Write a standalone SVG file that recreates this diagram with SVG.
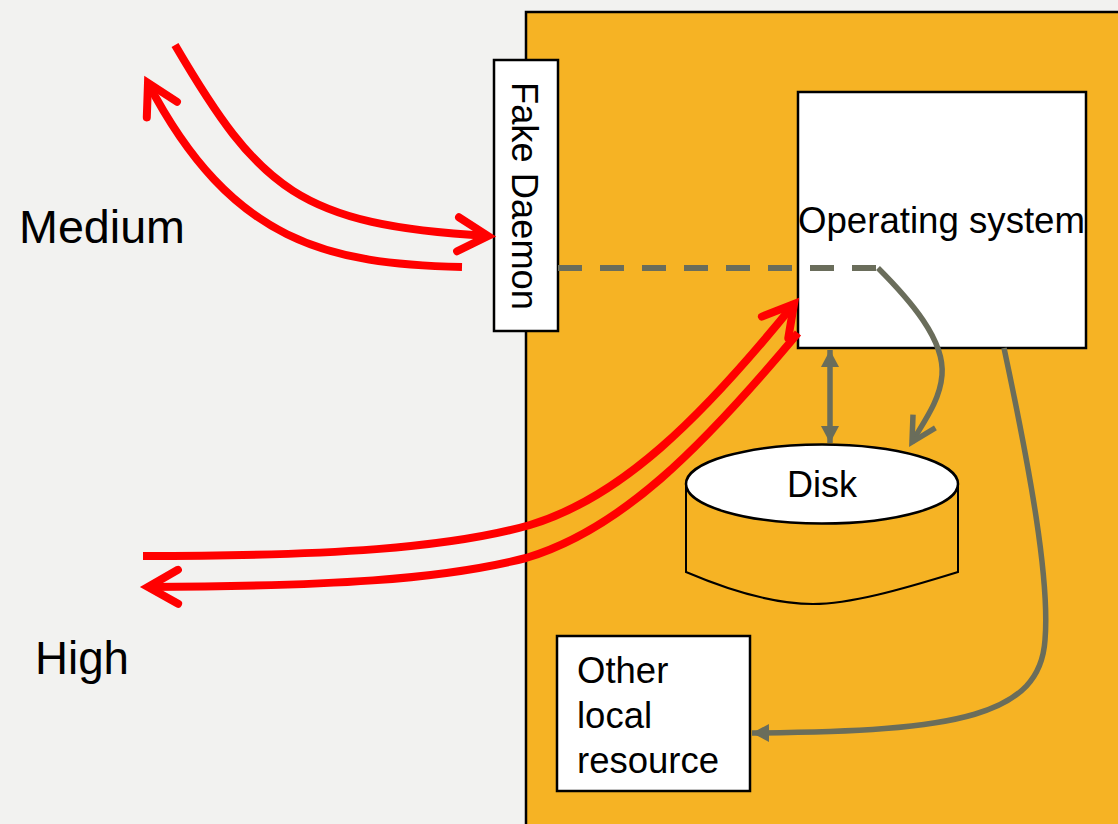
<svg xmlns="http://www.w3.org/2000/svg" width="1118" height="824" viewBox="0 0 1118 824">
  <style>
    .t { font-family: "Liberation Sans", Arial, sans-serif; fill: #000; }
    .box { fill: #fff; stroke: #000; stroke-width: 2.5; }
    .red { fill: none; stroke: #ff0000; stroke-width: 8; stroke-linecap: butt; }
    .gray { fill: none; stroke: #6a6d5b; stroke-width: 5.5; }
  </style>
  <defs>
    <marker id="redOpen" markerUnits="userSpaceOnUse" markerWidth="80" markerHeight="80" viewBox="-40 -40 80 80" refX="0" refY="0" orient="auto" overflow="visible">
      <path d="M-30,-17 L0,0 L-30,17" fill="none" stroke="#ff0000" stroke-width="8" stroke-linecap="round" stroke-linejoin="miter"/>
    </marker>
    <marker id="grayOpen" markerUnits="userSpaceOnUse" markerWidth="60" markerHeight="60" viewBox="-30 -30 60 60" refX="0" refY="0" orient="auto" overflow="visible">
      <path d="M-24,-13 L0,0 L-24,13" fill="none" stroke="#6a6d5b" stroke-width="5.5" stroke-linejoin="miter"/>
    </marker>
    <marker id="grayFill" markerUnits="userSpaceOnUse" markerWidth="40" markerHeight="40" viewBox="-20 -20 40 40" refX="0" refY="0" orient="auto-start-reverse" overflow="visible">
      <path d="M0,0 L-17,-9 L-17,9 Z" fill="#6a6d5b"/>
    </marker>
  </defs>

  <rect x="0" y="0" width="1118" height="824" fill="#f2f2f0"/>

  <g id="host">
    <rect x="526" y="12" width="600" height="830" fill="#f6b324" stroke="#000" stroke-width="2.5"/>
  </g>

  <g id="label-medium">
    <text class="t" x="19" y="243" font-size="46" textLength="166" lengthAdjust="spacingAndGlyphs">Medium</text>
  </g>
  <g id="label-high">
    <text class="t" x="35" y="674" font-size="46" textLength="94" lengthAdjust="spacingAndGlyphs">High</text>
  </g>

  <g id="fake-daemon">
    <rect class="box" x="494" y="60" width="64" height="271"/>
    <text class="t" font-size="37" transform="translate(512,82) rotate(90)" textLength="228" lengthAdjust="spacingAndGlyphs">Fake Daemon</text>
  </g>

  <g id="operating-system">
    <rect class="box" x="798" y="92" width="288" height="256"/>
    <text class="t" x="798" y="233" font-size="36" textLength="287" lengthAdjust="spacingAndGlyphs">Operating system</text>
  </g>

  <g id="disk">
    <path d="M686,484 L686,572 C740,595 780,604 813,604 C850,604 900,590 958,572 L958,484" fill="#f6b324" stroke="#000" stroke-width="2"/>
    <ellipse cx="822" cy="484" rx="136" ry="39.5" fill="#fff" stroke="#000" stroke-width="2.5"/>
    <text class="t" x="822" y="497" font-size="36" text-anchor="middle" textLength="70" lengthAdjust="spacingAndGlyphs">Disk</text>
  </g>

  <g id="other-local-resource">
    <rect class="box" x="557" y="636" width="193" height="155"/>
    <text class="t" font-size="36.5">
      <tspan x="577" y="683">Other</tspan>
      <tspan x="577" y="728">local</tspan>
      <tspan x="577" y="773">resource</tspan>
    </text>
  </g>

  <g id="connectors">
    <!-- Medium -->
    <path class="red" d="M175,45 C260,190 300,225 488,236" marker-end="url(#redOpen)"/>
    <path class="red" d="M462,267 C330,264 232,244 148,83" marker-end="url(#redOpen)"/>
    <!-- High -->
    <path class="red" d="M143,556 C330,556 450,548 530,525 C620,498 700,420 794,304" marker-end="url(#redOpen)"/>
    <path class="red" d="M798,333 C700,450 620,530 526,558 C440,580 330,586 148,587" marker-end="url(#redOpen)"/>
    <!-- Dashed link -->
    <line x1="558" y1="268" x2="878" y2="268" stroke="#6a6d5b" stroke-width="6" stroke-dasharray="24,18"/>
    <path class="gray" d="M878,268 C910,300 945,340 942,375 C940,400 925,420 912,442" marker-end="url(#grayOpen)"/>
    <!-- OS <-> Disk -->
    <line x1="830" y1="350" x2="830" y2="443" stroke="#6a6d5b" stroke-width="5.5" marker-start="url(#grayFill)" marker-end="url(#grayFill)"/>
    <!-- OS -> Other local resource -->
    <path class="gray" d="M1004,348 C1030,470 1050,580 1045,640 C1040,715 960,732 752,733" marker-end="url(#grayFill)"/>
  </g>
</svg>
